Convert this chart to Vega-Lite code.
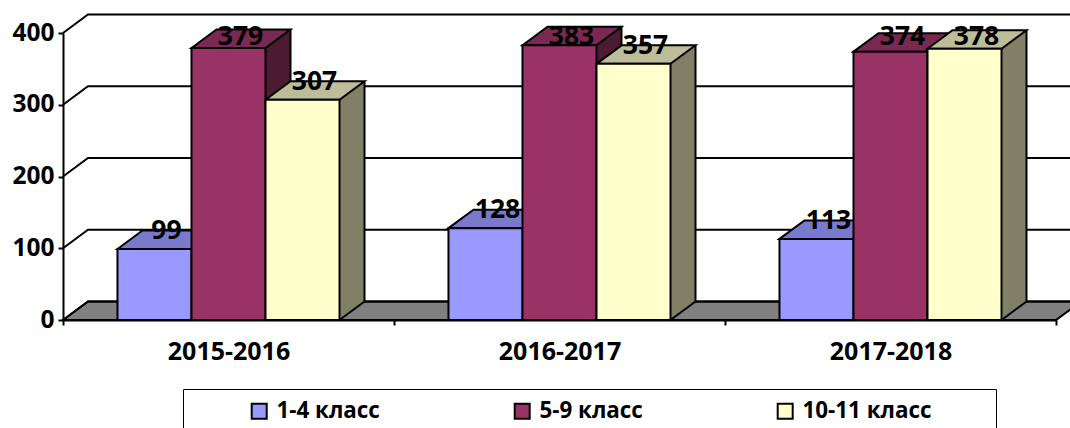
{
"$schema":"https://vega.github.io/schema/vega-lite/v6.json",
"width":993,"height":287,
"autosize":{"type":"none"},
"padding":{"left":63,"top":33,"right":14,"bottom":108},
"background":"white",
"config":{"view":{"stroke":null},"font":"Open Sans"},
"datasets":{
"bars":[
{"year":"2015-2016","group":"1-4 класс","count":99},
{"year":"2015-2016","group":"5-9 класс","count":379},
{"year":"2015-2016","group":"10-11 класс","count":307},
{"year":"2016-2017","group":"1-4 класс","count":128},
{"year":"2016-2017","group":"5-9 класс","count":383},
{"year":"2016-2017","group":"10-11 класс","count":357},
{"year":"2017-2018","group":"1-4 класс","count":113},
{"year":"2017-2018","group":"5-9 класс","count":374},
{"year":"2017-2018","group":"10-11 класс","count":378}
],
"ticks":[{"tick":0},{"tick":100},{"tick":200},{"tick":300},{"tick":400}]
},
"data":{"name":"bars"},
"encoding":{
"x":{"field":"year","type":"nominal","title":null,"sort":null,
"scale":{"paddingInner":0,"paddingOuter":0},
"axis":{"labelAngle":0,"labelFont":"Open Sans","labelFontWeight":"bold","labelFontSize":25,"labelColor":"#000","labelPadding":14,"tickBand":"extent","tickColor":"#000","tickWidth":2,"tickSize":5,"domainColor":"#000","domainWidth":2,"grid":false}},
"xOffset":{"field":"group","type":"nominal","sort":null,"scale":{"type":"band","domain":["1-4 класс","5-9 класс","10-11 класс"],"paddingInner":0,"paddingOuter":0.736}},
"y":{"field":"count","type":"quantitative","title":null,
"scale":{"domain":[0,400],"nice":false},
"axis":{"values":[0,100,200,300,400],"labelFont":"Open Sans","labelFontWeight":"bold","labelFontSize":24.5,"labelColor":"#000","labelPadding":4,"tickColor":"#000","tickWidth":2,"tickSize":5,"domainColor":"#000","domainWidth":2,"grid":false}}
},
"layer":[
{"data":{"name":"ticks"},
 "mark":{"type":"point","shape":"M0 0L25 -18.5L1018 -18.5L993 0Z","size":4,"filled":true,"opacity":1,"fill":"#808080","stroke":"#000","strokeWidth":2,"clip":false},
 "transform":[{"filter":"datum.tick === 0"}],
 "encoding":{"x":{"value":0},"xOffset":null,"y":{"field":"tick","type":"quantitative"}}},
{"data":{"name":"ticks"},
 "mark":{"type":"point","shape":"M0 0L25 -18.5L1018 -18.5","size":4,"filled":false,"opacity":1,"stroke":"#000","strokeWidth":2,"clip":false},
 "encoding":{"x":{"value":0},"xOffset":null,"y":{"field":"tick","type":"quantitative"}}},
{"mark":{"type":"rule","strokeWidth":25,"yOffset":-18.5,"y2Offset":-18.5},
 "encoding":{"xOffset":{"field":"group","type":"nominal","sort":null,"scale":{"type":"band","domain":["1-4 класс","5-9 класс","10-11 класс"],"paddingInner":0,"paddingOuter":0,"range":[104,326]}},"y2":{"datum":0},"stroke":{"field":"group","type":"nominal","legend":null,"scale":{"domain":["1-4 класс","5-9 класс","10-11 класс"],"range":["#4D4D80","#4D1A33","#808066"]}}}},
{"mark":{"type":"point","shape":"M37 0L62 -18.5L62 -21L37 -21Z","size":4,"filled":true,"opacity":1,"strokeWidth":0},
 "encoding":{"y":{"datum":0},"fill":{"field":"group","type":"nominal","legend":null,"scale":{"domain":["1-4 класс","5-9 класс","10-11 класс"],"range":["#4D4D80","#4D1A33","#808066"]}}}},
{"mark":{"type":"rule","color":"#000","strokeWidth":2,"yOffset":-18.5,"y2Offset":-18.5},
 "encoding":{"xOffset":{"field":"group","type":"nominal","sort":null,"scale":{"type":"band","domain":["1-4 класс","5-9 класс","10-11 класс"],"paddingInner":0,"paddingOuter":0,"range":[116.5,338.5]}},"y2":{"datum":0}}},
{"mark":{"type":"point","shape":"M37 0L62 -18.5","size":4,"filled":false,"opacity":1,"stroke":"#000","strokeWidth":2},
 "encoding":{"y":{"datum":0}}},
{"mark":{"type":"point","shape":"M-37 0L-12 -18.5L62 -18.5L37 0Z","size":4,"filled":true,"opacity":1,"stroke":"#000","strokeWidth":2},
 "encoding":{"fill":{"field":"group","type":"nominal","legend":null,"scale":{"domain":["1-4 класс","5-9 класс","10-11 класс"],"range":["#7A7ACC","#7A2952","#BDBD9A"]}}}},
{"mark":{"type":"bar","stroke":"#000","strokeWidth":2},
 "encoding":{"fill":{"field":"group","type":"nominal","title":"\u2800\u2800\u2800\u2800\u2800\u2800\u2800",
 "scale":{"domain":["1-4 класс","5-9 класс","10-11 класс"],"range":["#9999FF","#993366","#FFFFCC"]},
 "legend":{"orient":"none","legendX":120,"legendY":356,"direction":"horizontal","columns":3,"gridAlign":"each","columnPadding":77,"padding":11,"strokeColor":"#000","fillColor":"#fff","symbolType":"square","symbolSize":225,"symbolStrokeColor":"#000","symbolStrokeWidth":2,"symbolOffset":54,"labelOffset":6,"labelFont":"Open Sans","labelFontWeight":"bold","labelFontSize":22.4,"labelColor":"#000","labelLimit":400,"titleOrient":"right","titleFont":"DejaVu Sans","titleFontSize":10,"titleFontWeight":"normal","titlePadding":2,"titleLimit":300}}}},
{"transform":[{"filter":"datum.count < 370"}],
 "mark":{"type":"text","font":"Open Sans","fontWeight":"bold","fontSize":26.5,"color":"#000","dx":12,"yOffset":-18},
 "encoding":{"text":{"field":"count","type":"quantitative"}}},
{"transform":[{"filter":"datum.count >= 370"}],
 "mark":{"type":"text","font":"Open Sans","fontWeight":"bold","fontSize":26.5,"color":"#000","dx":12,"yOffset":-16},
 "encoding":{"y":{"datum":372},"text":{"field":"count","type":"quantitative"}}}
],
"resolve":{"scale":{"fill":"independent","stroke":"independent","xOffset":"independent"}}
}
